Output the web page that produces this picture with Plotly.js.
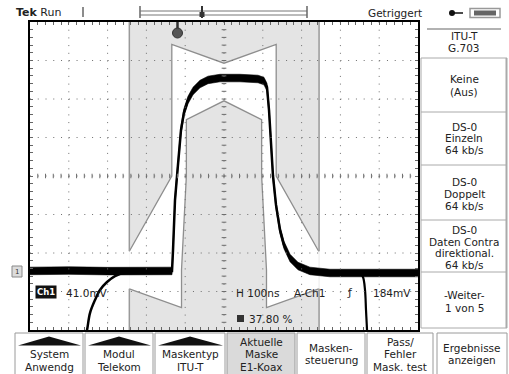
<!DOCTYPE html>
<html><head><meta charset="utf-8">
<script src="https://cdn.plot.ly/plotly-3.0.1.min.js"></script>
<style>html,body{margin:0;padding:0;background:#fff;}#chart{width:509px;height:374px;}</style>
</head><body><div id="chart"></div>
<script>
// ---------- DATA (time in ns, level relative to nominal pulse amplitude) ----------
const pulseT = [-500,-400,-300,-200,-140,-134,-131.4,-128.9,-126.3,-121.1,-116,-110.8,-103,-92.8,-79.9,-61.9,-41.2,-10.3,41.2,87.6,103,110.8,116,121.1,126.3,134,144.3,154.6,170.1,190.7,221.6,273.2,400,500];
const pulseV = [-0.005,-0.003,-0.006,-0.004,-0.005,-0.005,0.106,0.213,0.372,0.5,0.638,0.745,0.840,0.904,0.952,0.989,1.011,1.021,1.021,1.016,1.005,0.973,0.851,0.691,0.5,0.346,0.213,0.133,0.064,0.021,-0.005,-0.016,-0.016,-0.016];
const prevT = [-362,-353,-345.4,-332.5,-319.6,-301.5,-281,-250,-216.5];
const prevV = [-0.40,-0.319,-0.229,-0.160,-0.106,-0.064,-0.032,-0.011,-0.005];
const nextT = [340,350.5,358.2,363.4,366,368.6,371];
const nextV = [-0.016,-0.016,-0.037,-0.106,-0.213,-0.319,-0.40];
const upperMaskT = [-244,-134.5,-134.5,0,134.5,134.5,244];
const upperMaskV = [0.1,0.5,1.2,1.1,1.2,0.5,0.1];
const lowerMaskT = [-244,-109.5,-109.5,-97,-97,0,97,97,109.5,109.5,244];
const lowerMaskV = [-0.1,-0.2,0,0.5,0.8,0.9,0.8,0.5,0,-0.2,-0.1];
const menuLabels = [["ITU-T","G.703"],["Keine","(Aus)"],["DS-0","Einzeln","64 kb/s"],["DS-0","Doppelt","64 kb/s"],["DS-0","Daten Contra","direktional.","64 kb/s"],["-Weiter-","1 von 5"]];
const buttonLabels = [["System","Anwendg"],["Modul","Telekom"],["Maskentyp","ITU-T"],["Aktuelle","Maske","E1-Koax"],["Masken-","steuerung"],["Pass/","Fehler","Mask. test"],["Ergebnisse","anzeigen"]];
const readVolts = "41.0mV", readTime = "H 100ns", readTrig = "A-Ch1", readLevel = "184mV", readPct = "37.80 %";

// ---------- GEOMETRY / STYLE ----------
const L=30,T=22,PW=388,PH=308;
const px = x => (x-L)/PW, py = y => (T+PH-y)/PH;
const DIVY = 0.20478, YMIN = 0.5-4*DIVY, YMAX = 0.5+4*DIVY;
const persistHalf = 0.02;
const FONT = "DejaVu Sans";
const ink = "#222";

const shapes = [];
const ann = [];
function lineP(x0,y0,x1,y1,color,w){shapes.push({type:'line',xref:'paper',yref:'paper',x0:px(x0),y0:py(y0),x1:px(x1),y1:py(y1),line:{color:color,width:w},layer:'above'});}
function rectP(x0,y0,x1,y1,fill,lc,lw){shapes.push({type:'rect',xref:'paper',yref:'paper',x0:px(x0),x1:px(x1),y0:py(y1),y1:py(y0),fillcolor:fill,line:{color:lc||fill,width:lw===undefined?0:lw},layer:'above'});}
function pathP(pts,fill){let d=pts.map((p,i)=>(i?'L':'M')+px(p[0])+','+py(p[1])).join(' ')+' Z';shapes.push({type:'path',xref:'paper',yref:'paper',path:d,fillcolor:fill,line:{width:0},layer:'above'});}
function txt(x,y,text,size,anchor,extra){ann.push(Object.assign({xref:'paper',yref:'paper',x:px(x),y:py(y),text:text,showarrow:false,xanchor:anchor||'center',yanchor:'middle',font:{family:FONT,size:size,color:ink}},extra||{}));}

// mask band
shapes.push({type:'rect',xref:'x',yref:'paper',x0:upperMaskT[0],x1:upperMaskT[upperMaskT.length-1]+2,y0:0,y1:1,fillcolor:'#e4e4e4',line:{width:0},layer:'below'});
const bl = upperMaskT[0], br = upperMaskT[upperMaskT.length-1]+1;
[[bl,upperMaskV[0],YMAX],[bl,lowerMaskV[0],YMIN],[br,upperMaskV[upperMaskV.length-1],YMAX],[br,lowerMaskV[lowerMaskV.length-1],YMIN]].forEach(e=>{
  shapes.push({type:'line',xref:'x',yref:'y',x0:e[0],x1:e[0],y0:e[1],y1:e[2],line:{color:'#9a9a9a',width:1.5},layer:'above'});
});

// graticule dots
for(let t=-400;t<=400;t+=100){shapes.push({type:'path',xref:'x',yref:'y',path:`M${t},${YMAX} L${t},${YMIN}`,line:{color:'#6e6e6e',width:1,dash:'1px,6.7px'},layer:'above'});}
for(let k=-3;k<=3;k++){const y=0.5+k*DIVY;shapes.push({type:'path',xref:'x',yref:'y',path:`M-500,${y} L500,${y}`,line:{color:'#6e6e6e',width:1,dash:'1px,6.76px'},layer:'above'});}
let dv='',dh='';
for(let j=-19;j<=19;j++){const y=0.5+j*DIVY/5;dv+=`M-6,${y} L6,${y} `;}
for(let i=-24;i<=24;i++){const t=i*20;dh+=`M${t},${0.5-0.012} L${t},${0.5+0.012} `;}
shapes.push({type:'path',xref:'x',yref:'y',path:dv,line:{color:'#6e6e6e',width:1},layer:'above'});
shapes.push({type:'path',xref:'x',yref:'y',path:dh,line:{color:'#6e6e6e',width:1},layer:'above'});

// top status line
txt(14,13,'<b>Tek</b> Run',11,'left');
lineP(83,7,83,17,'#666',1.5);
lineP(140,6,140,18,'#666',1.5);
lineP(140,11,307,11,'#777',1);
lineP(140,15,307,15,'#777',1);
lineP(307,6,307,18,'#666',1.5);
lineP(202,6,202,18,'#333',2);
rectP(199.5,12,204.5,17,'#333');
txt(366,13,'Getriggert',10.5,'left');
shapes.push({type:'circle',xref:'paper',yref:'paper',x0:px(449),x1:px(455),y0:py(16),y1:py(10),fillcolor:'#111',line:{width:0},layer:'above'});
lineP(452,13,463,13,'#111',1.5);
shapes.push({type:'rect',xref:'paper',yref:'paper',x0:px(470),x1:px(500),y0:py(17.5),y1:py(8.5),fillcolor:'#fff',line:{color:'#999',width:1.5},layer:'above'});
rectP(474,10.5,496,15.5,'#666');

// trigger position marker
lineP(177.5,22,177.5,29,'#333',2.5);
shapes.push({type:'circle',xref:'paper',yref:'paper',x0:px(172.5),x1:px(182.5),y0:py(38),y1:py(28),fillcolor:'#555',line:{color:'#333',width:1},layer:'above'});
// ground marker
rectP(12,266,22,277,'#dcdcdc','#888',1);
txt(17,271.5,'1',7,'center',{font:{family:FONT,size:7,color:'#333'}});

// readouts
txt(46,292,'<b>Ch1</b>',8.5,'center',{bgcolor:'#111',borderpad:1,font:{family:FONT,size:8.5,color:'#fff'}});
txt(64,293,readVolts,10.5,'left');
txt(234,293,readTime,10.5,'left');
txt(292,293,readTrig,10.5,'left');
txt(350,292,'ƒ',11,'center');
txt(371,293,readLevel,10.5,'left');
rectP(237,315,244,322,'#333');
txt(247,319,readPct,10.5,'left');

// right menu
lineP(427,29,501,29,'#999',1.5);
const boxY = [58,112,165,220,272,328];
boxY.forEach(y=>lineP(421,y,507,y,'#aaa',1));
lineP(421,58,421,328,'#aaa',1);
lineP(506.5,58,506.5,328,'#aaa',2);
const menuY = [[36,48],[79,92],[127,138,150],[182,194,206],[230,242,253,265],[295,308]];
menuLabels.forEach((lines,b)=>lines.forEach((s,i)=>txt(464,menuY[b][i],s,10.5)));

// bottom buttons
const btnX = [[15,83],[85,153],[155,225],[227,295],[297,365],[367,433],[437,507]];
btnX.forEach((b,i)=>{
  rectP(b[0],333,b[1],376,i===3?'#dadada':'#ffffff','#9a9a9a',1);
  const lines = buttonLabels[i], mid=(b[0]+b[1])/2;
  let ys;
  if(i<3){pathP([[b[0]+3,345.5],[b[1]-2,345.5],[mid,336.5]],'#111');ys=[354,367];}
  else if(lines.length===3){ys=[342,354,367];}
  else {ys=[348,360];}
  lines.forEach((s,k)=>txt(mid,ys[k],s,10.5));
});

// ---------- TRACES ----------
const maskPolyT = upperMaskT.concat(lowerMaskT.slice().reverse());
const maskPolyV = upperMaskV.concat(lowerMaskV.slice().reverse());
const traces = [
  {x:maskPolyT,y:maskPolyV,mode:'lines',fill:'toself',fillcolor:'#ffffff',line:{width:0},hoverinfo:'skip'},
  {x:upperMaskT,y:upperMaskV,mode:'lines',line:{color:'#8e8e8e',width:1.3},hoverinfo:'skip'},
  {x:lowerMaskT,y:lowerMaskV,mode:'lines',line:{color:'#8e8e8e',width:1.3},hoverinfo:'skip'},
  {x:pulseT,y:pulseV.map(v=>v-persistHalf),mode:'lines',line:{color:'#000',width:0.6},hoverinfo:'skip'},
  {x:pulseT,y:pulseV.map(v=>v+persistHalf),mode:'lines',fill:'tonexty',fillcolor:'#000',line:{color:'#000',width:0.6},hoverinfo:'skip'},
  {x:pulseT,y:pulseV,mode:'lines',line:{color:'#000',width:2.5},hoverinfo:'skip'},
  {x:prevT,y:prevV,mode:'lines',line:{color:'#000',width:2.5,shape:'spline'},hoverinfo:'skip'},
  {x:nextT,y:nextV,mode:'lines',line:{color:'#000',width:2.2,shape:'spline'},hoverinfo:'skip'}
];

const layout = {
  width:509,height:374,margin:{l:L,r:509-L-PW,t:T,b:374-T-PH,pad:0},
  paper_bgcolor:'#fff',plot_bgcolor:'#fff',showlegend:false,
  xaxis:{range:[-500,500],showgrid:false,zeroline:false,showline:true,mirror:'ticks',linecolor:'#000',linewidth:2,
         ticks:'inside',tick0:0,dtick:20,ticklen:3,tickcolor:'#666',tickwidth:1,showticklabels:false,fixedrange:true},
  yaxis:{range:[YMIN,YMAX],showgrid:false,zeroline:false,showline:true,mirror:'ticks',linecolor:'#000',linewidth:2,
         ticks:'inside',tick0:0.5,dtick:DIVY/5,ticklen:3,tickcolor:'#666',tickwidth:1,showticklabels:false,fixedrange:true},
  shapes:shapes,annotations:ann
};
Plotly.newPlot('chart',traces,layout,{displayModeBar:false,staticPlot:true});
</script></body></html>
